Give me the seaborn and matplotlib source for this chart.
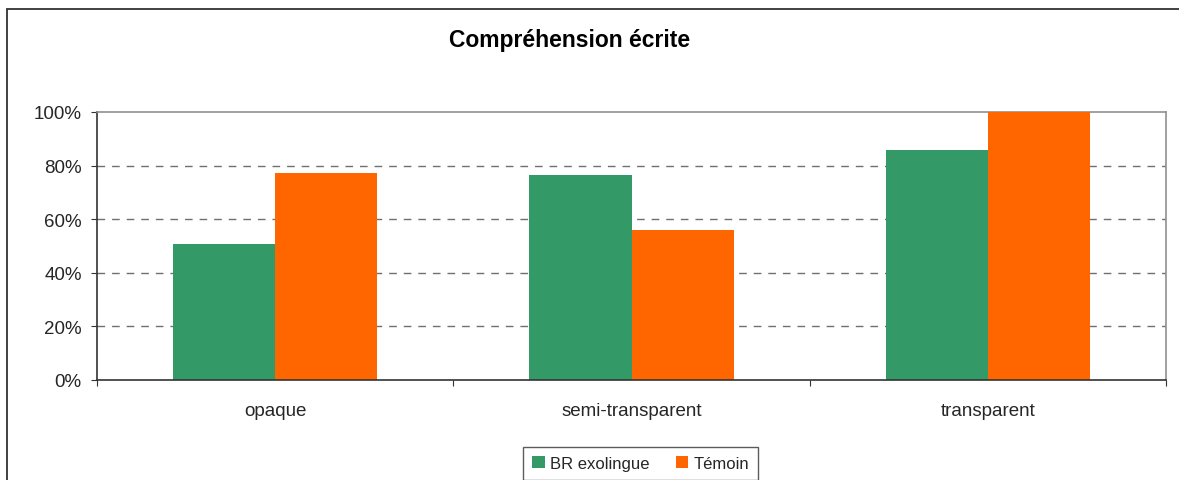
import matplotlib
matplotlib.use("Agg")
import matplotlib.pyplot as plt
from matplotlib.patches import Rectangle, Patch
from matplotlib.ticker import FixedLocator, PercentFormatter
import pandas as pd
import seaborn as sns

# Data
categories = ["opaque", "semi-transparent", "transparent"]
groups = ["BR exolingue", "Témoin"]
br_exolingue = [50.7, 76.5, 85.8]
temoin = [77.2, 56.0, 100.0]
y_ticks = [0, 20, 40, 60, 80, 100]
title = "Compréhension écrite"

colors = {"BR exolingue": "#339966", "Témoin": "#FF6600"}

df = pd.DataFrame({
    "categorie": categories * 2,
    "groupe": [groups[0]] * 3 + [groups[1]] * 3,
    "valeur": br_exolingue + temoin,
})

sns.set_style("white")
plt.rcParams["font.family"] = ["Liberation Sans", "DejaVu Sans"]

W, H = 1179, 481
fig = plt.figure(figsize=(W / 100, H / 100), dpi=100)
ax = fig.add_axes([97 / W, 1 - 381 / H, (1166 - 97) / W, (381 - 113) / H])

sns.barplot(data=df, x="categorie", y="valeur", hue="groupe", order=categories,
            hue_order=groups, palette=colors, width=0.573, saturation=1,
            linewidth=0, ax=ax, legend=False, zorder=3)

ax.set_xlim(-0.5, 2.5)
ax.set_ylim(0, 100)
ax.set_xlabel("")
ax.set_ylabel("")

# y axis: percentage ticks and dashed gridlines
ax.yaxis.set_major_locator(FixedLocator(y_ticks))
ax.yaxis.set_major_formatter(PercentFormatter(decimals=0))
for v in y_ticks[1:-1]:
    ax.axhline(v, color="#707070", linestyle=(0, (5.5, 5)), linewidth=1.0, zorder=1)

# x axis: tick marks between categories, labels centered under groups
ax.xaxis.set_major_locator(FixedLocator([-0.5, 0.5, 1.5, 2.5]))
ax.xaxis.set_minor_locator(FixedLocator([0, 1, 2]))
ax.set_xticklabels([], minor=False)
ax.set_xticklabels(categories, minor=True)
ax.tick_params(axis="x", which="major", direction="out", length=4, width=0.8,
               color="#333333", bottom=True)
ax.tick_params(axis="x", which="minor", length=0, pad=16, labelsize=13.5)
ax.tick_params(axis="y", direction="out", length=4, width=0.8, color="#333333",
               left=True, pad=7, labelsize=13.5)

for side in ("left", "bottom"):
    ax.spines[side].set_color("#333333")
    ax.spines[side].set_linewidth(1.2)
for side in ("top", "right"):
    ax.spines[side].set_visible(True)
    ax.spines[side].set_color("#909090")
    ax.spines[side].set_linewidth(1.2)
ax.spines["bottom"].set_zorder(4)

# Chart border
fig.patches.append(Rectangle((7 / W, -0.2), 1.2, 1 - 10 / H + 0.2,
                             transform=fig.transFigure, fill=False,
                             edgecolor="#333333", linewidth=1.3, zorder=0))

fig.text(570 / W, 1 - 40 / H, title, ha="center", va="center",
         fontsize=16.5, fontweight="bold", color="black")

handles = [Patch(facecolor=colors[g], edgecolor="none", label=g) for g in groups]
leg = fig.legend(handles=handles, loc="upper left",
                 bbox_to_anchor=(523 / W, 1 - 448 / H), ncol=2, frameon=True,
                 fancybox=False, edgecolor="#333333", fontsize=12,
                 handlelength=0.75, handleheight=0.75, handletextpad=0.3,
                 columnspacing=1.6, borderpad=0.55, borderaxespad=0)
leg.get_frame().set_linewidth(1.0)

fig.savefig("out.png", dpi=100)
